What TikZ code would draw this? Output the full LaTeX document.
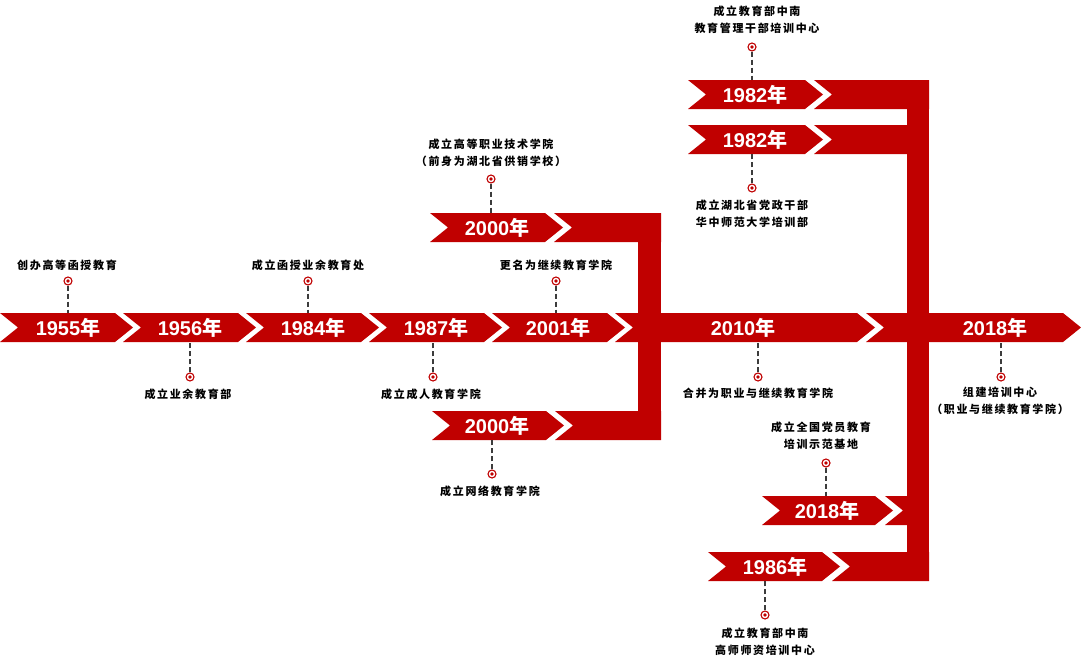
\documentclass[tikz,border=0pt]{standalone}
\usepackage{fontspec}
\newfontfamily\cjk[LetterSpace=15]{Noto Sans CJK SC}
\newfontfamily\yrfont{Liberation Sans}
\definecolor{tlred}{RGB}{192,0,0}
\definecolor{leadgray}{RGB}{60,60,60}
\newcommand{\yr}[1]{{\yrfont\bfseries #1}{\fontspec{Noto Sans CJK SC}\bfseries 年}}
% x1, x2 (top right corner), top edge
\newcommand{\chevron}[3]{\fill[tlred] (#1,#3) -- (#2,#3) -- ++(18,14.5) -- ++(-18,14.5) -- (#1,#3+29) -- ++(18,-14.5) -- cycle;}
\newcommand{\chevtail}[3]{\fill[tlred] (#1,#3) -- (#2,#3) -- (#2,#3+29) -- (#1,#3+29) -- ++(18,-14.5) -- cycle;}
\tikzset{
  year/.style={text=white, font=\fontsize{20}{22}\selectfont, inner sep=0pt},
  lead/.style={draw=leadgray, dash pattern=on 5pt off 3pt, line width=1.1pt},
  pin/.style={circle, draw=tlred, fill=white, line width=1.1pt, minimum size=8pt, inner sep=0pt,
    path picture={\fill[tlred] (path picture bounding box.center) circle (1.8pt);}},
  note/.style={font=\cjk\bfseries\fontsize{11}{17}\selectfont, align=center, inner sep=0pt},
}
\begin{document}
\begin{tikzpicture}[x=1pt, y=-1pt]
  \useasboundingbox[fill=white] (0,0) rectangle (1081,664);
  % main line
  \chevron{0}{115}{313}
  \chevron{123}{238}{313}
  \chevron{246}{361}{313}
  \chevron{369}{484}{313}
  \chevron{492}{607}{313}
  \chevron{615}{857}{313}
  \chevron{866}{1063}{313}
  % branch at 2010
  \fill[tlred] (638,213) rectangle (661,440);
  \chevron{430}{545}{213} \chevtail{554}{661}{213}
  \chevron{432}{546}{411} \chevtail{555}{661}{411}
  % branch at 2018
  \fill[tlred] (907,80) rectangle (929,581);
  \chevron{688}{805}{80} \chevtail{814}{929}{80}
  \chevron{688}{805}{125} \chevtail{814}{907}{125}
  \chevron{762}{875}{496} \chevtail{885}{907}{496}
  \chevron{708}{822}{552} \chevtail{832}{929}{552}

  \draw
    (68,328) node[year] (y1955){\yr{1955}}
    (190,328) node[year] (y1956){\yr{1956}}
    (313,328) node[year] (y1984){\yr{1984}}
    (436,328) node[year] (y1987){\yr{1987}}
    (558,328) node[year] (y2001){\yr{2001}}
    (743,328) node[year] (y2010){\yr{2010}}
    (995,328) node[year] (y2018){\yr{2018}}
    (497,228) node[year] (y2000a){\yr{2000}}
    (497,426) node[year] (y2000b){\yr{2000}}
    (755,95) node[year] (y1982a){\yr{1982}}
    (755,140) node[year] (y1982b){\yr{1982}}
    (827,511) node[year] (y2018b){\yr{2018}}
    (775,567) node[year] (y1986){\yr{1986}};

  \coordinate (e1955) at (68,313);
  \coordinate (e1956) at (190,342);
  \coordinate (e1984) at (308,313);
  \coordinate (e1987) at (433,342);
  \coordinate (e2001) at (556,313);
  \coordinate (e2010) at (758,342);
  \coordinate (e2018) at (1001,342);
  \coordinate (e2000a) at (491,213);
  \coordinate (e2000b) at (492,440);
  \coordinate (e1982a) at (752,80);
  \coordinate (e1982b) at (752,154);
  \coordinate (e2018b) at (826,496);
  \coordinate (e1986) at (765,581);

  \draw
    (68,281) node[pin] (m1955){}
    (190,377) node[pin] (m1956){}
    (308,281) node[pin] (m1984){}
    (433,377) node[pin] (m1987){}
    (556,281) node[pin] (m2001){}
    (758,377) node[pin] (m2010){}
    (1001,377) node[pin] (m2018){}
    (491,179) node[pin] (m2000a){}
    (492,474) node[pin] (m2000b){}
    (752,47) node[pin] (m1982a){}
    (752,188) node[pin] (m1982b){}
    (826,463) node[pin] (m2018b){}
    (765,615) node[pin] (m1986){};

  \begin{scope}[lead]
    \draw (m1955) -- (e1955);
    \draw (m1956) -- (e1956);
    \draw (m1984) -- (e1984);
    \draw (m1987) -- (e1987);
    \draw (m2001) -- (e2001);
    \draw (m2010) -- (e2010);
    \draw (m2018) -- (e2018);
    \draw (m2000a) -- (e2000a);
    \draw (m2000b) -- (e2000b);
    \draw (m1982a) -- (e1982a);
    \draw (m1982b) -- (e1982b);
    \draw (m2018b) -- (e2018b);
    \draw (m1986) -- (e1986);
  \end{scope}

  \draw
    (67,265) node[note] (t1955){创办高等函授教育}
    (188,394) node[note] (t1956){成立业余教育部}
    (308,265) node[note] (t1984){成立函授业余教育处}
    (431,394) node[note] (t1987){成立成人教育学院}
    (556,265) node[note] (t2001){更名为继续教育学院}
    (758,393) node[note] (t2010){合并为职业与继续教育学院}
    (1000,401) node[note] (t2018){组建培训中心\\（职业与继续教育学院）}
    (491,153) node[note] (t2000a){成立高等职业技术学院\\（前身为湖北省供销学校）}
    (490,491) node[note] (t2000b){成立网络教育学院}
    (757,20) node[note] (t1982a){成立教育部中南\\教育管理干部培训中心}
    (752,214) node[note] (t1982b){成立湖北省党政干部\\华中师范大学培训部}
    (821,436) node[note] (t2018b){成立全国党员教育\\培训示范基地}
    (765,642) node[note] (t1986){成立教育部中南\\高师师资培训中心};
\end{tikzpicture}
\end{document}
